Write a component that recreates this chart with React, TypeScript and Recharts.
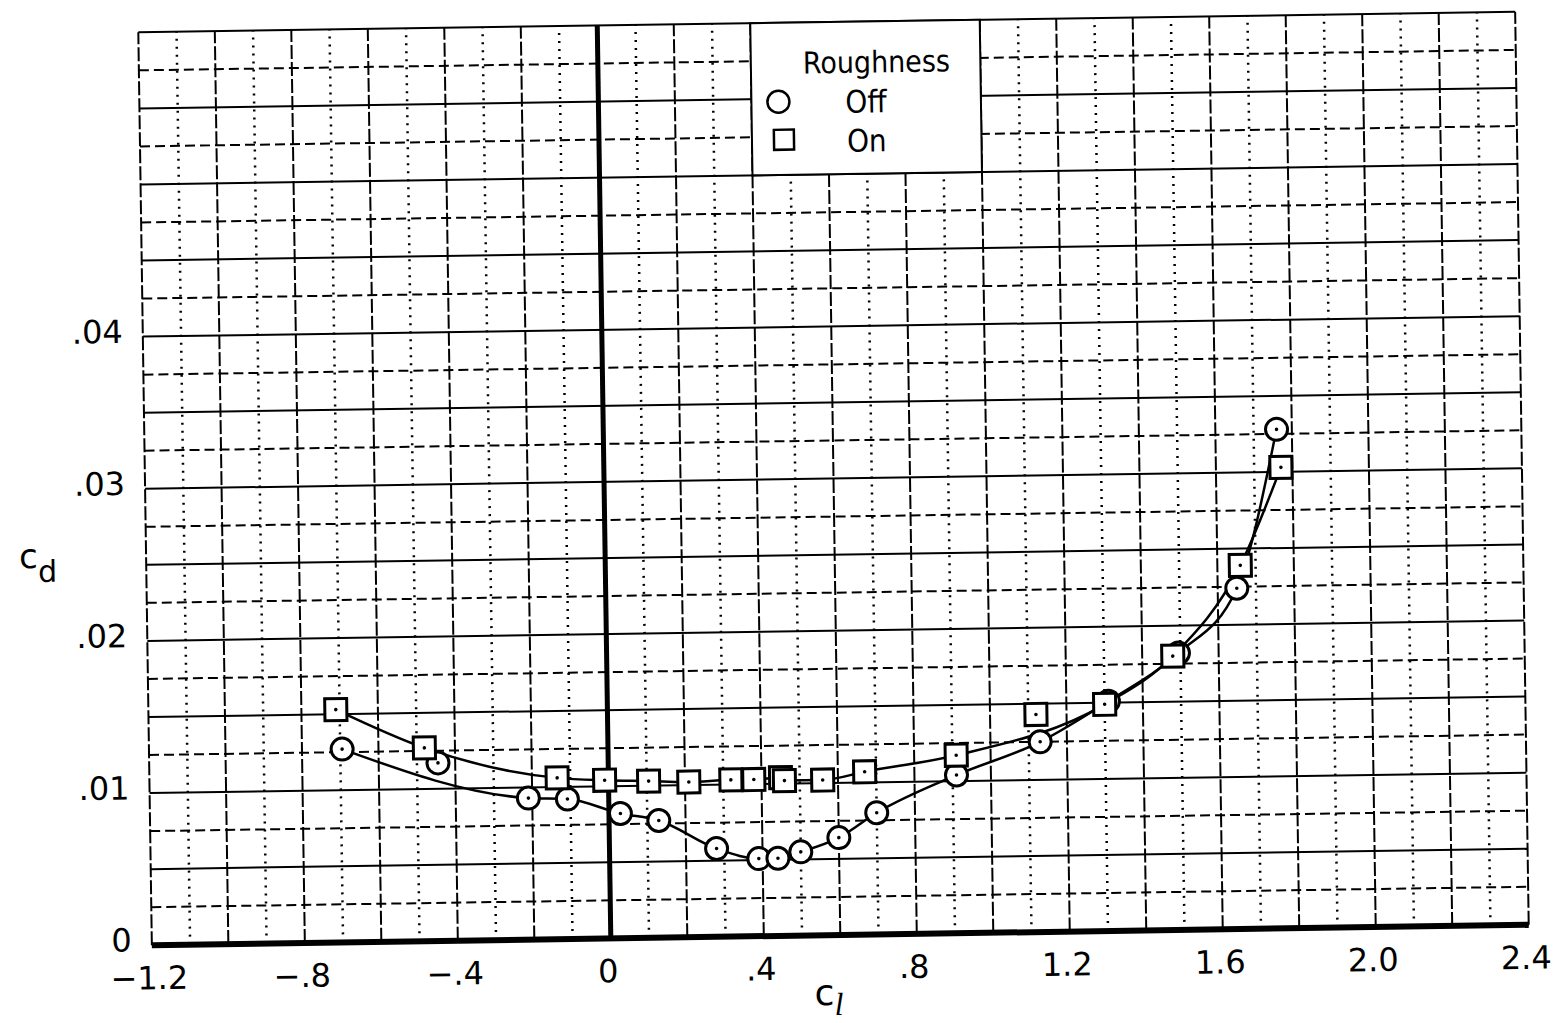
import React from 'react';
import {
  ComposedChart,
  XAxis,
  YAxis,
  Line,
  Scatter,
  ReferenceLine,
  ReferenceArea,
} from 'recharts';

// Section drag coefficient c_d against section lift coefficient c_l,
// measured with leading-edge roughness off and on.
const roughnessOffCl = [
  -0.695, -0.445, -0.21, -0.108, 0.03, 0.13, 0.28, 0.39, 0.44, 0.5, 0.6, 0.7,
  0.91, 1.13, 1.31, 1.495, 1.65, 1.76,
];
const roughnessOffCd = [
  0.0127, 0.0117, 0.0093, 0.0092, 0.0082, 0.0077, 0.0058, 0.0051, 0.0051,
  0.0055, 0.0064, 0.008, 0.0104, 0.0125, 0.0151, 0.0182, 0.0224, 0.0328,
];
const roughnessOnCl = [
  -0.71, -0.48, -0.134, -0.01, 0.105, 0.21, 0.32, 0.38, 0.45, 0.46, 0.56, 0.67,
  0.91, 1.12, 1.3, 1.48, 1.66, 1.77,
];
const roughnessOnCd = [
  0.0153, 0.0127, 0.0106, 0.0104, 0.0103, 0.0102, 0.0103, 0.0103, 0.0104,
  0.0102, 0.0102, 0.0107, 0.0117, 0.0143, 0.0149, 0.018, 0.0239, 0.0303,
];
// Test points that the faired curves pass beside rather than through.
const offCurveSkip = [-0.445];
const onCurveSkip = [1.12];

const xTicks = [-1.2, -0.8, -0.4, 0, 0.4, 0.8, 1.2, 1.6, 2.0, 2.4];
const xTickLabels = ['\u22121.2', '\u2212.8', '\u2212.4', '0', '.4', '.8', '1.2', '1.6', '2.0', '2.4'];
const yTicks = [0, 0.01, 0.02, 0.03, 0.04];
const yTickLabels = ['0', '.01', '.02', '.03', '.04'];

const legendTitle = 'Roughness';
const seriesNames = ['Off', 'On'];

const X_DOMAIN: [number, number] = [-1.2, 2.4];
const Y_DOMAIN: [number, number] = [0, 0.06];

const offPoints = roughnessOffCl.map((cl, i) => ({ cl, cd: roughnessOffCd[i] }));
const onPoints = roughnessOnCl.map((cl, i) => ({ cl, cd: roughnessOnCd[i] }));
const offCurve = offPoints.filter((p) => !offCurveSkip.includes(p.cl));
const onCurve = onPoints.filter((p) => !onCurveSkip.includes(p.cl));

// graph-paper rulings: every 0.1 in c_l and every 0.0025 in c_d
const verticalRulings = Array.from({ length: 37 }, (_, i) => ({ v: (i - 12) / 10, major: i % 2 === 0 }));
const horizontalRulings = Array.from({ length: 25 }, (_, i) => ({ v: i / 400, major: i % 2 === 0 }));

const SANS = "'DejaVu Sans', sans-serif";
const CONDENSED = "'DejaVu Sans Condensed', 'DejaVu Sans', sans-serif";
const INK = '#000';
const TICK_SIZE = 32;

const CircleMark = (props: any) => {
  const { cx, cy } = props;
  if (cx == null || cy == null) return null;
  return (
    <g>
      <circle cx={cx} cy={cy} r={11} fill="#fff" stroke={INK} strokeWidth={3} />
      <circle cx={cx} cy={cy} r={1.8} fill={INK} />
    </g>
  );
};

const SquareMark = (props: any) => {
  const { cx, cy } = props;
  if (cx == null || cy == null) return null;
  return (
    <g>
      <rect x={cx - 11} y={cy - 11} width={22} height={22} fill="#fff" stroke={INK} strokeWidth={3} />
      <circle cx={cx} cy={cy} r={1.8} fill={INK} />
    </g>
  );
};

const XTick = (props: any) => {
  const { x, y, payload } = props;
  const label = xTickLabels[xTicks.indexOf(payload?.value)] ?? '';
  return (
    <text x={x - 3} y={y} dy={27} textAnchor="middle" fill={INK} fontFamily={SANS} fontSize={TICK_SIZE}>
      {label}
    </text>
  );
};

const YTick = (props: any) => {
  const { x, y, payload } = props;
  const label = yTickLabels[yTicks.indexOf(payload?.value)] ?? '';
  return (
    <text x={x} y={y} dy={6} textAnchor="end" fill={INK} fontFamily={SANS} fontSize={TICK_SIZE}>
      {label}
    </text>
  );
};

const LegendBox = (props: any) => {
  const vb = props.viewBox || {};
  const x = vb.x ?? 0;
  const y = vb.y ?? 0;
  return (
    <g fontFamily={CONDENSED} fill={INK}>
      <text x={x + 52} y={y + 51} fontSize={30}>{legendTitle}</text>
      <ellipse cx={x + 27} cy={y + 79} rx={11} ry={11} fill="none" stroke={INK} strokeWidth={2.5} />
      <text x={x + 94} y={y + 91} fontSize={31}>{seriesNames[0]}</text>
      <rect x={x + 22} y={y + 107} width={20} height={20} fill="none" stroke={INK} strokeWidth={2.5} />
      <text x={x + 95} y={y + 130} fontSize={31}>{seriesNames[1]}</text>
    </g>
  );
};

const YAxisSymbol = (props: any) => {
  const vb = props.viewBox || {};
  const x = (vb.x ?? 0) - 27;
  const y = (vb.y ?? 0) + (vb.height ?? 0) * 0.585;
  return (
    <text x={x} y={y} fill={INK} fontFamily={SANS} fontSize={34}>
      c<tspan fontSize={30} dy={14}>d</tspan>
    </text>
  );
};

const XAxisSymbol = (props: any) => {
  const vb = props.viewBox || {};
  const x = (vb.x ?? 0) + 662;
  const y = (vb.y ?? 0) + 70;
  return (
    <text x={x} y={y} fill={INK} fontFamily={SANS} fontSize={36}>
      c<tspan fontFamily="'Liberation Serif', serif" fontStyle="italic" fontSize={32} dy={10}>l</tspan>
    </text>
  );
};

export default function App() {
  return (
    <div style={{ position: 'absolute', left: 0, top: 0, width: 1566, height: 1023, background: '#fff' }}>
      {/* the whole sheet sits slightly askew */}
      <div style={{ transform: 'rotate(-0.85deg)', transformOrigin: '836px 478px', width: 1566, height: 1023 }}>
        <ComposedChart
          width={1566}
          height={1023}
          margin={{ top: 22, right: 44, bottom: 28, left: 45 }}
        >
          <XAxis
            type="number"
            dataKey="cl"
            domain={X_DOMAIN}
            allowDataOverflow
            ticks={xTicks}
            interval={0}
            axisLine={false}
            tickLine={false}
            tickSize={0}
            tickMargin={17}
            height={60}
            tick={XTick}
            label={(p: any) => <XAxisSymbol {...p} />}
          />
          <YAxis
            type="number"
            dataKey="cd"
            domain={Y_DOMAIN}
            allowDataOverflow
            ticks={yTicks}
            interval={0}
            axisLine={false}
            tickLine={false}
            tickSize={0}
            tickMargin={20}
            width={100}
            tick={YTick}
            label={(p: any) => <YAxisSymbol {...p} />}
          />

          {horizontalRulings.map((r) => (
            <ReferenceLine
              key={`h${r.v}`}
              y={r.v}
              ifOverflow="visible"
              zIndex={-100}
              stroke={INK}
              strokeWidth={2}
              strokeDasharray={r.major ? undefined : '10 5'}
            />
          ))}
          {verticalRulings.map((r) => (
            <ReferenceLine
              key={`v${r.v}`}
              x={r.v}
              ifOverflow="visible"
              zIndex={-100}
              stroke={INK}
              strokeWidth={r.major ? 2 : 2.5}
              strokeDasharray={r.major ? '14 3' : '2 6'}
            />
          ))}

          <ReferenceLine x={0} ifOverflow="visible" zIndex={-90} stroke={INK} strokeWidth={5} />
          <ReferenceLine y={0} ifOverflow="visible" zIndex={-90} stroke={INK} strokeWidth={6} />

          <ReferenceArea
            x1={0.4}
            x2={1.0}
            y1={0.05}
            y2={0.06}
            ifOverflow="visible"
            zIndex={900}
            fill="#fff"
            fillOpacity={1}
            stroke={INK}
            strokeWidth={2}
            label={(p: any) => <LegendBox {...p} />}
          />

          <Line
            data={offCurve}
            dataKey="cd"
            type="monotoneX"
            stroke={INK}
            strokeWidth={2.5}
            dot={false}
            activeDot={false}
            isAnimationActive={false}
          />
          <Line
            data={onCurve}
            dataKey="cd"
            type="monotoneX"
            stroke={INK}
            strokeWidth={2.5}
            dot={false}
            activeDot={false}
            isAnimationActive={false}
          />
          <Scatter data={offPoints} dataKey="cd" shape={CircleMark} isAnimationActive={false} />
          <Scatter data={onPoints} dataKey="cd" shape={SquareMark} isAnimationActive={false} />
        </ComposedChart>
      </div>
    </div>
  );
}
